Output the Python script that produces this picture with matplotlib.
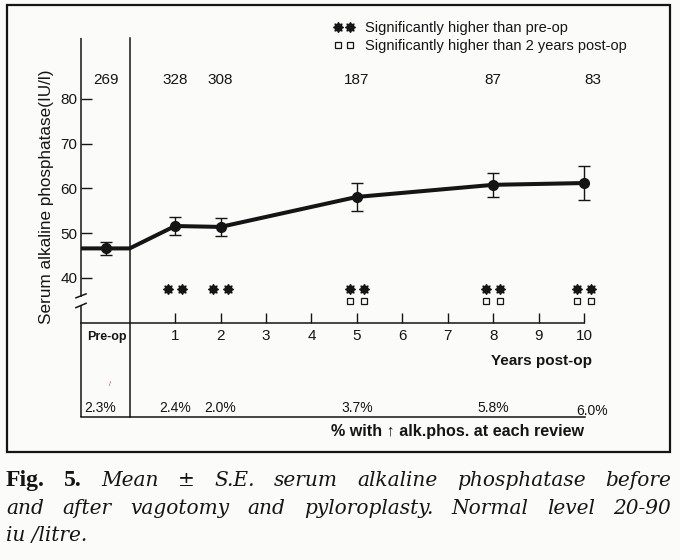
import numpy as np
import matplotlib
matplotlib.use("Agg")
import matplotlib.pyplot as plt
from matplotlib.path import Path
from matplotlib.lines import Line2D
from matplotlib.patches import Rectangle

# ---------------- data ----------------
review_years = [1, 2, 5, 8, 10]
review_mean = [51.6, 51.4, 58.1, 60.8, 61.2]
review_se = [1.95, 2.0, 3.2, 2.7, 3.8]
preop_mean = 46.6
preop_se = 1.45
n_preop = 269
n_review = [328, 308, 187, 87, 83]
pct_preop = "2.3%"
pct_review = ["2.4%", "2.0%", "3.7%", "5.8%", "6.0%"]
sig_vs_preop = [True, True, True, True, True]
sig_vs_2yr = [False, False, True, True, True]
year_ticks = list(range(1, 11))
ytick_values = [40, 50, 60, 70, 80]

# ---------------- style / layout ----------------
plt.rcParams["font.family"] = ["Liberation Sans", "DejaVu Sans"]
ink = "#151515"
bg = "#fbfbf9"
W, H = 680, 560

fig = plt.figure(figsize=(W / 100, H / 100), dpi=100)
fig.patch.set_facecolor(bg)

ax = fig.add_axes([81 / W, 1 - 417 / H, 504 / W, 379 / H])
ax.set_facecolor("none")
XMIN, XMAX = -1.07, 10.02
YMIN, YMAX = 8.94, 93.6
ax.set_xlim(XMIN, XMAX)
ax.set_ylim(YMIN, YMAX)
PRE_X = -0.53
AXIS_Y = 30

for s in ["top", "right", "left"]:
    ax.spines[s].set_visible(False)
ax.spines["bottom"].set_position(("data", AXIS_Y))
ax.spines["bottom"].set_bounds(XMIN, year_ticks[-1])
ax.spines["bottom"].set_linewidth(1.1)
ax.spines["bottom"].set_color(ink)
ax.set_xticks(year_ticks)
ax.set_xticklabels([str(v) for v in year_ticks])
ax.tick_params(axis="x", direction="in", length=7.2, width=1.0, pad=4.6,
               labelsize=11, colors=ink)
ax.set_yticks(ytick_values)
ax.set_yticklabels([str(v) for v in ytick_values])
ax.tick_params(axis="y", direction="in", length=7.9, width=1.0, pad=2.5,
               labelsize=11, colors=ink)

# left axis with break
yt = ax.get_yaxis_transform()
lkw = dict(color=ink, lw=1.1, clip_on=False, solid_capstyle="butt", transform=yt)
ax.plot([0, 0], [YMAX, 35.75], **lkw)
ax.plot([0, 0], [33.97, YMIN], **lkw)
dx = 5.8 / 504
ax.plot([-dx, dx], [35.5, 36.5], **lkw)
ax.plot([-dx, dx], [33.3, 34.4], **lkw)

# separator and bottom line of table
ax.axvline(0, color=ink, lw=1.1, clip_on=False)
ax.axhline(YMIN, color=ink, lw=1.1, clip_on=False)

# ---------------- data marks ----------------
all_x = [PRE_X] + review_years
all_mean = [preop_mean] + review_mean
all_se = [preop_se] + review_se
eb = ax.errorbar(all_x, all_mean, yerr=all_se, fmt="none", ecolor=ink,
                 elinewidth=1.0, capsize=4.3, capthick=1.0, zorder=3)
for art in eb.lines[1] + eb.lines[2]:
    art.set_clip_on(False)
line_x = [XMIN, PRE_X, 0] + review_years
line_y = [preop_mean] * 3 + review_mean
ax.plot(line_x, line_y, color=ink, lw=2.9, solid_joinstyle="round",
        solid_capstyle="butt", zorder=4, clip_on=False)
ax.plot(all_x, all_mean, "o", ms=7, color=ink, zorder=5, clip_on=False)

# significance markers
star = Path.unit_regular_star(8, 0.62)
OFF = 0.155
STAR_Y, SQ_Y = 37.6, 34.9
for yr, sp, s2 in zip(review_years, sig_vs_preop, sig_vs_2yr):
    if sp:
        ax.plot([yr - OFF, yr + OFF], [STAR_Y, STAR_Y], ls="none", marker=star,
                ms=7, color=ink, clip_on=False)
    if s2:
        ax.plot([yr - OFF, yr + OFF], [SQ_Y, SQ_Y], ls="none", marker="s",
                ms=4.6, mfc="none", mec=ink, mew=0.9, clip_on=False)

# ---------------- text ----------------
N_Y = 84.3
ax.text(PRE_X, N_Y, str(n_preop), ha="center", va="center", fontsize=11, color=ink)
for i, (yr, n) in enumerate(zip(review_years, n_review)):
    last = i == len(review_years) - 1
    ax.annotate(str(n), (yr, N_Y), xytext=(6 if last else 0, 0),
                textcoords="offset points", ha="center", va="center",
                fontsize=11, color=ink)

PCT_Y = 11.0
ax.text(PRE_X - 0.12, PCT_Y, pct_preop, ha="center", va="center", fontsize=10, color=ink)
for i, (yr, p) in enumerate(zip(review_years, pct_review)):
    last = i == len(review_years) - 1
    ax.annotate(p, (yr, PCT_Y), xytext=(5.5 if last else 0, -2 if last else 0),
                textcoords="offset points", ha="center", va="center",
                fontsize=10, color=ink)

ax.text(PRE_X + 0.02, 26.8, "Pre-op", ha="center", va="center", fontsize=9,
        fontweight="bold", color=ink)
ax.annotate("Years post-op", (year_ticks[-1], 21.45), xytext=(6, 0),
            textcoords="offset points", ha="right", va="center", fontsize=11,
            fontweight="bold", color=ink)
ax.annotate("% with \u2191 alk.phos. at each review", (year_ticks[-1], 5.6),
            xytext=(0, 0), textcoords="offset points", ha="right", va="center",
            fontsize=11.6, fontweight="bold", color=ink, annotation_clip=False)
ax.text(-0.43, 16.1, "/", ha="center", va="center", fontsize=5, color="#d0302a")

fig.text(47 / W, 1 - 197 / H, "Serum alkaline phosphatase(IU/l)", rotation=90,
         ha="center", va="center", fontsize=12.3, color=ink)

# legend
h_star = Line2D([], [], ls="none", marker=star, ms=7, color=ink)
h_sq = Line2D([], [], ls="none", marker="s", ms=4.6, mfc="none", mec=ink, mew=0.9)
fig.legend([h_star, h_sq],
           ["Significantly higher than pre-op",
            "Significantly higher than 2 years post-op"],
           loc="upper left", bbox_to_anchor=(333.6 / W, 1 - 21.0 / H),
           bbox_transform=fig.transFigure, frameon=False, numpoints=2,
           handlelength=1.42, handletextpad=0.73, labelspacing=0.26,
           borderpad=0, borderaxespad=0, fontsize=10.5, labelcolor=ink)

# frame
fig.add_artist(Rectangle((7 / W, 1 - 452 / H), 663 / W, 447 / H,
                         transform=fig.transFigure, fill=False,
                         edgecolor=ink, lw=1.6))

# ---------------- caption ----------------
serif = ["DejaVu Serif"]
bold_kw = dict(family=["Liberation Serif", "DejaVu Serif"], fontweight="bold",
               fontsize=17, color=ink)
ital_kw = dict(family=serif, fontstyle="italic", fontsize=14.5, color=ink)
renderer = fig.canvas.get_renderer()


def place_line(pieces, base_px, justify=True, x0=6, x1=671):
    texts = [fig.text(0, 1 - base_px / H, w, va="baseline", ha="left", **kw)
             for w, kw in pieces]
    widths = [t.get_window_extent(renderer).width for t in texts]
    if justify and len(texts) > 1:
        gap = (x1 - x0 - sum(widths)) / (len(texts) - 1)
    else:
        gap = 5
    x = x0
    for t, w in zip(texts, widths):
        t.set_x(x / W)
        x += w + gap


line1 = [("Fig.", bold_kw), ("5.", bold_kw)] + [
    (w, ital_kw) for w in "Mean \u00b1 S.E. serum alkaline phosphatase before".split()]
line2 = [(w, ital_kw) for w in
         "and after vagotomy and pyloroplasty. Normal level 20-90".split()]
line3 = [("iu /litre.", ital_kw)]
place_line(line1, 486)
place_line(line2, 514)
place_line(line3, 541, justify=False)

fig.savefig("out.png", dpi=100, facecolor=bg)
